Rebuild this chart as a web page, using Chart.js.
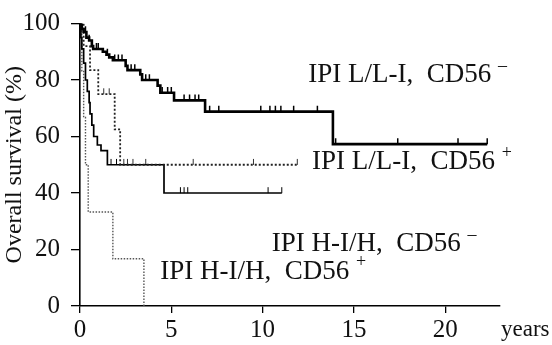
<!DOCTYPE html>
<html>
<head>
<meta charset="utf-8">
<script src="https://cdn.jsdelivr.net/npm/chart.js@4.4.1/dist/chart.umd.min.js"></script>
<style>
  html, body { margin: 0; padding: 0; background: #fff; }
  #wrap { width: 552px; height: 345px; }
</style>
</head>
<body>
<div id="wrap"><canvas id="kmChart" width="552" height="345"></canvas></div>
<script>
// survival steps: time (years) -> survival (%) after the event
const lowCd56NegT = [0, 0.1, 0.2, 0.35, 0.5, 0.65, 0.72, 1.25, 1.45, 1.6, 1.8, 2.5, 2.6, 3.3, 3.4, 4.25, 4.4, 5.15, 6.85, 13.85, 22.3];
const lowCd56NegS = [100, 98, 97, 95, 94, 92, 91, 90, 89, 88, 87, 85, 83.5, 82, 80, 78, 75.5, 72.8, 68.8, 57.3, 57.3];
const lowCd56NegCens = [0.3, 0.5, 0.9, 1.0, 1.5, 1.9, 2.1, 2.3, 2.8, 3.0, 3.6, 3.8, 4.5, 4.8, 5.0, 5.7, 6.0, 6.3, 6.5, 7.1, 7.6, 9.9, 10.4, 10.7, 11.0, 11.7, 13.0, 14.0, 17.4, 20.7, 22.3];

const lowCd56PosT = [0, 0.2, 0.55, 1.0, 1.9, 2.2, 11.9];
const lowCd56PosS = [100, 92, 83.5, 75, 62.5, 50, 50];
const lowCd56PosCens = [1.3, 1.6, 2.4, 2.6, 2.9, 3.6, 6.2, 9.5, 11.9];

const highCd56NegT = [0, 0.05, 0.1, 0.2, 0.3, 0.4, 0.5, 0.55, 0.65, 0.75, 0.95, 1.15, 1.5, 4.6, 11.05];
const highCd56NegS = [100, 95, 91, 86, 80, 76, 72, 68, 64, 60, 57, 55, 50, 40, 40];
const highCd56NegCens = [1.7, 2.0, 5.5, 5.7, 5.9, 10.3, 11.05];

const highCd56PosT = [0, 0.1, 0.2, 0.3, 0.45, 1.8, 3.5];
const highCd56PosS = [100, 83.3, 66.7, 50, 33.3, 16.7, 0];

const yTicks = [0, 20, 40, 60, 80, 100];
const xTicks = [0, 5, 10, 15, 20];

const curveLabels = ["IPI L/L-I,  CD56", "IPI L/L-I,  CD56", "IPI H-I/H,  CD56", "IPI H-I/H,  CD56"];
const curveSigns = ["\u2013", "+", "\u2013", "+"];
const labelX = [12.5, 12.7, 10.5, 4.4];
const labelY = [81.8, 51, 22, 12.2];

function toPoints(ts, ss) {
  return ts.map((t, i) => ({ x: t, y: ss[i] }));
}

// y of a KM curve at time t (for placing censor ticks on the line)
function survivalAt(ts, ss, t) {
  let s = ss[0];
  for (let i = 0; i < ts.length; i++) {
    if (ts[i] <= t) s = ss[i];
  }
  return s;
}

function censorPoints(ts, ss, cens) {
  return cens.map((t) => ({ x: t, y: survivalAt(ts, ss, t) + 1 }));
}

const serif = "'Liberation Serif', 'DejaVu Serif', serif";

const textPlugin = {
  id: "curveText",
  afterDraw(chart) {
    const ctx = chart.ctx;
    const xs = chart.scales.x;
    const ys = chart.scales.y;
    ctx.save();
    ctx.fillStyle = "#111";
    ctx.textBaseline = "middle";
    curveLabels.forEach((txt, i) => {
      const px = xs.getPixelForValue(labelX[i]);
      const py = ys.getPixelForValue(labelY[i]);
      ctx.font = "27px " + serif;
      ctx.textAlign = "left";
      ctx.fillText(txt, px, py);
      const w = ctx.measureText(txt + " ").width;
      ctx.font = "18px " + serif;
      ctx.fillText(curveSigns[i], px + w, py - 9);
    });
    // unit at the end of the x axis
    ctx.font = "23px " + serif;
    ctx.textAlign = "left";
    ctx.fillText("years", xs.right + 1, xs.top + 24);
    ctx.restore();
  },
};

const ctx = document.getElementById("kmChart").getContext("2d");
new Chart(ctx, {
  type: "line",
  data: {
    datasets: [
      {
        label: "IPI L/L-I, CD56-",
        data: toPoints(lowCd56NegT, lowCd56NegS),
        borderColor: "#000",
        borderWidth: 2.6,
        stepped: "before",
        pointRadius: 0,
      },
      {
        label: "IPI L/L-I, CD56+",
        data: toPoints(lowCd56PosT, lowCd56PosS),
        borderColor: "#222",
        borderWidth: 1.8,
        borderDash: [2, 2],
        stepped: "before",
        pointRadius: 0,
      },
      {
        label: "IPI H-I/H, CD56-",
        data: toPoints(highCd56NegT, highCd56NegS),
        borderColor: "#000",
        borderWidth: 1.7,
        stepped: "before",
        pointRadius: 0,
      },
      {
        label: "IPI H-I/H, CD56+",
        data: toPoints(highCd56PosT, highCd56PosS),
        borderColor: "#555",
        borderWidth: 1.4,
        borderDash: [1.5, 1.5],
        stepped: "before",
        pointRadius: 0,
      },
      {
        label: "censor A",
        data: censorPoints(lowCd56NegT, lowCd56NegS, lowCd56NegCens),
        showLine: false,
        pointStyle: "line",
        rotation: 90,
        pointRadius: 3,
        borderColor: "#000",
        borderWidth: 1.5,
      },
      {
        label: "censor B",
        data: censorPoints(lowCd56PosT, lowCd56PosS, lowCd56PosCens),
        showLine: false,
        pointStyle: "line",
        rotation: 90,
        pointRadius: 3,
        borderColor: "#333",
        borderWidth: 1,
      },
      {
        label: "censor C",
        data: censorPoints(highCd56NegT, highCd56NegS, highCd56NegCens),
        showLine: false,
        pointStyle: "line",
        rotation: 90,
        pointRadius: 3,
        borderColor: "#000",
        borderWidth: 1,
      },
    ],
  },
  options: {
    responsive: false,
    animation: false,
    layout: { padding: { top: 20, right: 52, bottom: 0, left: 0 } },
    plugins: {
      legend: { display: false },
      tooltip: { enabled: false },
    },
    scales: {
      x: {
        type: "linear",
        min: 0,
        max: 23,
        afterBuildTicks: (scale) => {
          scale.ticks = xTicks.map((v) => ({ value: v }));
        },
        afterFit: (scale) => {
          scale.height = 39;
        },
        grid: { drawOnChartArea: false, tickLength: 7, color: "#000", lineWidth: 1.3 },
        border: { color: "#000", width: 1.6 },
        ticks: { color: "#111", padding: 2, font: { family: serif, size: 25 } },
      },
      y: {
        min: 0,
        max: 100,
        afterBuildTicks: (scale) => {
          scale.ticks = yTicks.map((v) => ({ value: v }));
        },
        afterFit: (scale) => {
          scale.width = 80;
        },
        grid: { drawOnChartArea: false, tickLength: 9, color: "#000", lineWidth: 1.3 },
        border: { color: "#000", width: 1.6 },
        ticks: { color: "#111", padding: 11, font: { family: serif, size: 25, lineHeight: 1 } },
        title: {
          display: true,
          text: "Overall survival (%)",
          color: "#111",
          padding: 0,
          font: { family: serif, size: 24 },
        },
      },
    },
  },
  plugins: [textPlugin],
});
</script>
</body>
</html>
